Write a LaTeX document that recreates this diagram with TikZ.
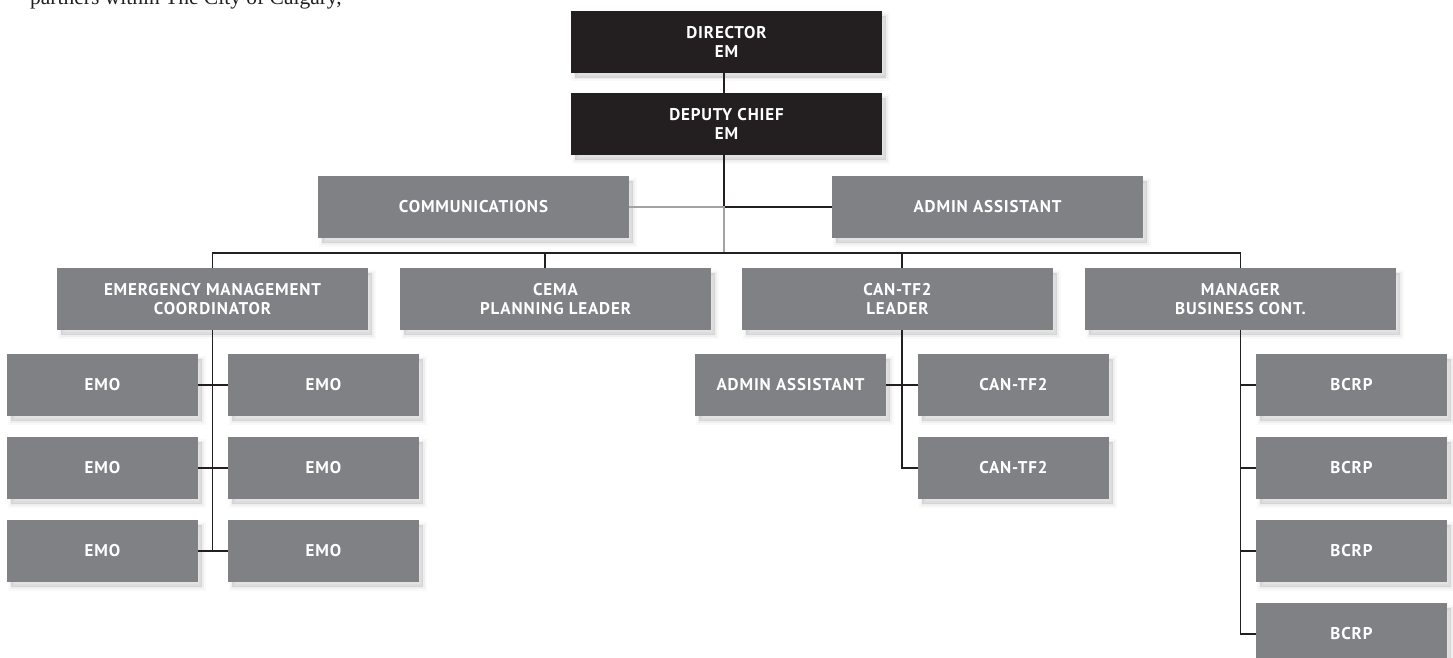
\documentclass[tikz,border=0pt]{standalone}
\usepackage{fontspec}
\setmainfont{Liberation Serif}
\newfontfamily\boxfont[LetterSpace=5]{PT Sans}
\usetikzlibrary{calc}
\definecolor{darkbox}{HTML}{231F20}
\definecolor{greyfill}{HTML}{808184}
\definecolor{lineblack}{HTML}{231F20}
\definecolor{linegrey}{HTML}{A3A3A3}
\begin{document}
\begin{tikzpicture}[x=1pt,y=-1pt,
  shadowed/.style={
    preaction={fill=black, draw=black, line width=7pt, opacity=0.025, transform canvas={shift={(4pt,-5pt)}}},
    preaction={fill=black, draw=black, line width=3pt, opacity=0.04, transform canvas={shift={(4pt,-5pt)}}},
    preaction={fill=black, opacity=0.05, transform canvas={shift={(4pt,-5pt)}}}},
  box/.style={shadowed, rectangle, inner sep=0pt, minimum height=62pt, text=white, align=center,
    font=\boxfont\bfseries\fontsize{17}{19}\selectfont},
  widebox/.style={box, minimum width=311pt},
  smallbox/.style={box, minimum width=191pt},
  darkfill/.style={fill=darkbox},
  greybox/.style={fill=greyfill},
  conn/.style={draw=lineblack, line width=1.3pt},
  connlight/.style={draw=linegrey, line width=1.3pt},
]
\useasboundingbox (0,0) rectangle (1453,658);
\begin{scope}
\clip (0,0) rectangle (1453,658);
\node[anchor=base west, inner sep=0pt, text=darkbox, font=\fontsize{21.5}{24}\selectfont] (intro) at (30,5) {partners within The City of Calgary,};

% top
\node[widebox, darkfill] (dir) at (726.5,42) {DIRECTOR\\EM};
\node[widebox, darkfill] (dep) at (726.5,124) {DEPUTY CHIEF\\EM};
\node[widebox, greybox] (comms) at (473.5,207) {COMMUNICATIONS};
\node[widebox, greybox] (admin) at (987.5,207) {ADMIN ASSISTANT};
% second tier
\node[widebox, greybox] (emc) at (212.5,299) {EMERGENCY MANAGEMENT\\COORDINATOR};
\node[widebox, greybox] (cema) at (555.5,299) {CEMA\\PLANNING LEADER};
\node[widebox, greybox] (can) at (897.5,299) {CAN-TF2\\LEADER};
\node[widebox, greybox] (mgr) at (1240.5,299) {MANAGER\\BUSINESS CONT.};
% EMO
\node[smallbox, greybox] (emoL1) at (102.5,385) {EMO};
\node[smallbox, greybox] (emoR1) at (323.5,385) {EMO};
\node[smallbox, greybox] (emoL2) at (102.5,468) {EMO};
\node[smallbox, greybox] (emoR2) at (323.5,468) {EMO};
\node[smallbox, greybox] (emoL3) at (102.5,551) {EMO};
\node[smallbox, greybox] (emoR3) at (323.5,551) {EMO};
% CAN-TF2
\node[smallbox, greybox] (adm2) at (790.5,385) {ADMIN ASSISTANT};
\node[smallbox, greybox] (ct1) at (1013.5,385) {CAN-TF2};
\node[smallbox, greybox] (ct2) at (1013.5,468) {CAN-TF2};
% BCRP
\node[smallbox, greybox] (b1) at (1351.5,385) {BCRP};
\node[smallbox, greybox] (b2) at (1351.5,468) {BCRP};
\node[smallbox, greybox] (b3) at (1351.5,551) {BCRP};
\node[smallbox, greybox] (b4) at (1351.5,634) {BCRP};

% connectors
\coordinate (spineTop) at ([xshift=-2.5pt]dir.south);
\coordinate (J) at (spineTop |- comms.east);
\coordinate (busc) at (724,253);
\draw[conn] (spineTop) -- ([xshift=-2.5pt]dep.north);
\draw[conn] ([xshift=-2.5pt]dep.south) -- (J) -- (J -| admin.west);
\draw[connlight] (comms.east) -- (J) -- (busc);
\draw[conn] (emc.north) -- (emc.north |- busc) -- (mgr.north |- busc) -- (mgr.north);
\draw[conn] ([xshift=-10.5pt]cema.north) -- ([xshift=-10.5pt]cema.north |- busc);
\draw[conn] ([xshift=4.5pt]can.north) -- ([xshift=4.5pt]can.north |- busc);
% EMC branch
\draw[conn] (emc.south) -- (emc.south |- emoL3.east);
\draw[conn] (emoL1.east) -- (emoR1.west);
\draw[conn] (emoL2.east) -- (emoR2.west);
\draw[conn] (emoL3.east) -- (emoR3.west);
% CAN branch
\draw[conn] ([xshift=4.5pt]can.south) -- ([xshift=4.5pt]can.south |- ct2.west) -- (ct2.west);
\draw[conn] (adm2.east) -- (ct1.west);
% MGR branch
\draw[conn] (mgr.south) -- (mgr.south |- b4.west) -- (b4.west);
\draw[conn] (mgr.south |- b1.west) -- (b1.west);
\draw[conn] (mgr.south |- b2.west) -- (b2.west);
\draw[conn] (mgr.south |- b3.west) -- (b3.west);
\end{scope}
\end{tikzpicture}
\end{document}
